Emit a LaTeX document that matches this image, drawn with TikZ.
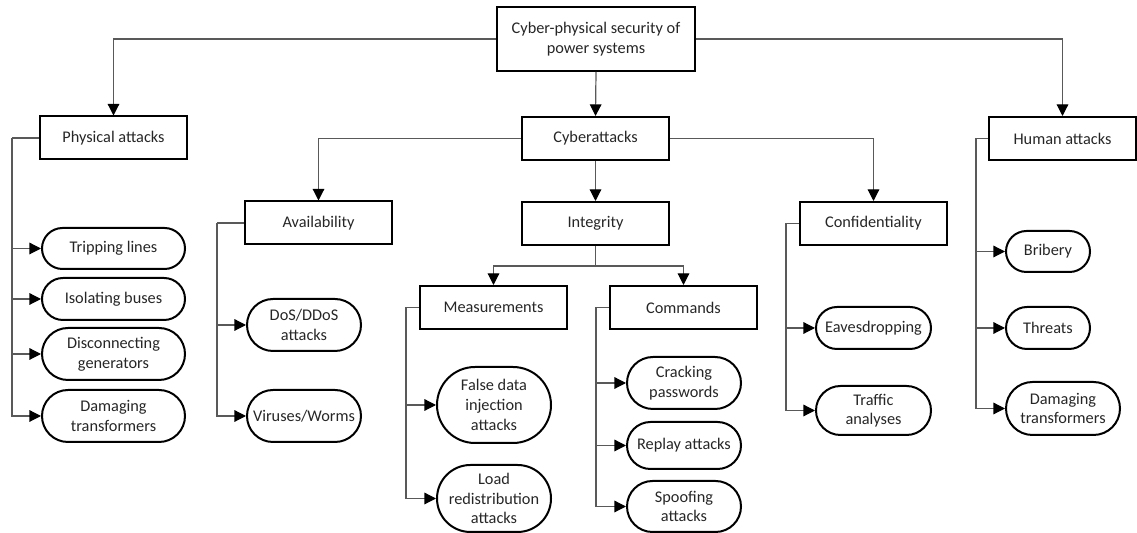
\documentclass[tikz,border=0pt]{standalone}
\usepackage{fontspec}
\setmainfont{Carlito}
\usetikzlibrary{arrows.meta,shapes.misc}
\begin{document}
\begin{tikzpicture}[x=0.5pt,y=-0.5pt,
  every node/.style={font=\fontsize{8.15}{9.8}\selectfont, text=black!85, align=center, inner sep=1pt},
  catbox/.style={draw=black, line width=1pt, rectangle, minimum width=73.5pt, minimum height=21.5pt},
  leaf/.style={draw=black, line width=1pt, rounded rectangle, rounded rectangle arc length=180, minimum height=#1},
  leaf/.default=21pt,
  conn/.style={draw=black!65, line width=0.6pt, -{Triangle[length=5.8pt,width=5.8pt,fill=black,color=black]}},
  bus/.style={draw=black!65, line width=0.6pt}
]
\useasboundingbox (0,0) rectangle (1137,533);

% category boxes
\node[catbox, minimum width=99pt, minimum height=32pt] (top) at (596,39) {Cyber-physical security of\\power systems};
\node[catbox] (phys)  at (113.5,138) {Physical attacks};
\node[catbox] (cyber) at (595.5,138.5) {Cyberattacks};
\node[catbox] (human) at (1062.5,138.5) {Human attacks};
\node[catbox] (avail) at (318.5,223) {Availability};
\node[catbox] (integ) at (595.5,223.5) {Integrity};
\node[catbox] (conf)  at (873.5,223.5) {Confidentiality};
\node[catbox] (meas)  at (493.5,307.5) {Measurements};
\node[catbox] (comm)  at (683.5,307.5) {Commands};

% attack leaves
\node[leaf=20.5pt, minimum width=73.5pt] (trip) at (113.5,248.5) {Tripping lines};
\node[leaf=21pt,   minimum width=73.5pt] (iso)  at (113.5,299) {Isolating buses};
\node[leaf=26pt,   minimum width=73.5pt] (disc) at (113.5,354) {Disconnecting\\generators};
\node[leaf=26pt,   minimum width=73.5pt] (dam1) at (113.5,416) {Damaging\\transformers};

\node[leaf=26pt, minimum width=59pt] (dos) at (304,325) {DoS/DDoS\\attacks};
\node[leaf=26pt, minimum width=59pt] (vir) at (304,416) {Viruses/Worms};

\node[leaf=38pt,   minimum width=59pt] (fdi)  at (494,405) {False data\\injection\\attacks};
\node[leaf=33.5pt, minimum width=59pt] (load) at (494,498.5) {Load\\redistribution\\attacks};

\node[leaf=26pt,   minimum width=59pt] (crack)  at (684,383) {Cracking\\passwords};
\node[leaf=23.5pt, minimum width=59pt] (replay) at (684,445.5) {Replay attacks};
\node[leaf=25.5pt, minimum width=59pt] (spoof)  at (684,506.5) {Spoofing\\attacks};

\node[leaf=21pt,   minimum width=59.5pt] (eaves)   at (873.5,328) {Eavesdropping};
\node[leaf=24.5pt, minimum width=59.5pt] (traffic) at (873.5,410.5) {Traffic\\analyses};

\node[leaf=20.5pt, minimum width=44pt] (bribe)  at (1048,251.5) {Bribery};
\node[leaf=21pt,   minimum width=44pt] (threat) at (1048,328) {Threats};
\node[leaf=26.5pt, minimum width=59pt] (dam2)   at (1063,408.5) {Damaging\\transformers};

% hierarchy connectors
\draw[conn] (top.west) -| (phys.north);
\draw[conn] (top.south) -- (cyber.north);
\draw[conn] (top.east) -| (human.north);
\draw[conn] (cyber.west) -| (avail.north);
\draw[conn] (cyber.south) -- (integ.north);
\draw[conn] (cyber.east) -| (conf.north);
\coordinate (isplit) at (595.5,266);
\draw[bus] (integ.south) -- (isplit);
\draw[conn] (isplit) -| (meas.north);
\draw[conn] (isplit) -| (comm.north);

% side buses to leaves
\coordinate (pbus) at (12,138);
\draw[bus] (phys.west) -- (pbus);
\foreach \n in {trip,iso,disc,dam1} \draw[conn] (pbus) |- (\n.west);

\coordinate (abus) at (217,223);
\draw[bus] (avail.west) -- (abus);
\foreach \n in {dos,vir} \draw[conn] (abus) |- (\n.west);

\coordinate (mbus) at (406,307.5);
\draw[bus] (meas.west) -- (mbus);
\foreach \n in {fdi,load} \draw[conn] (mbus) |- (\n.west);

\coordinate (cbus) at (596,307.5);
\draw[bus] (comm.west) -- (cbus);
\foreach \n in {crack,replay,spoof} \draw[conn] (cbus) |- (\n.west);

\coordinate (fbus) at (786,223.5);
\draw[bus] (conf.west) -- (fbus);
\foreach \n in {eaves,traffic} \draw[conn] (fbus) |- (\n.west);

\coordinate (hbus) at (976,138.5);
\draw[bus] (human.west) -- (hbus);
\foreach \n in {bribe,threat,dam2} \draw[conn] (hbus) |- (\n.west);
\end{tikzpicture}
\end{document}
